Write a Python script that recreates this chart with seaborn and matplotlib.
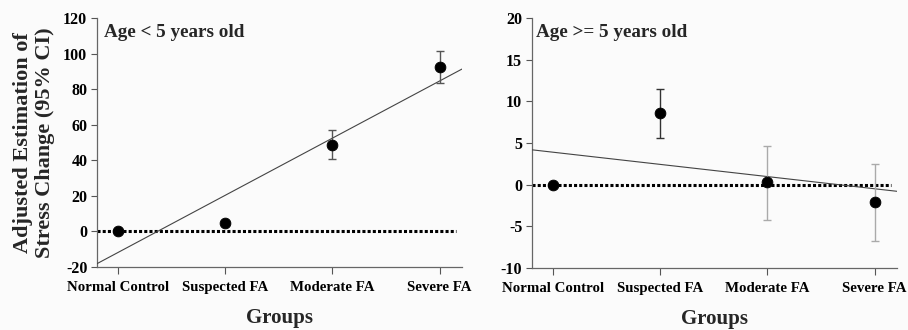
import numpy as np
import pandas as pd
import matplotlib
matplotlib.use("Agg")
import matplotlib.pyplot as plt
import seaborn as sns

# Data
groups = ["Normal Control", "Suspected FA", "Moderate FA", "Severe FA"]

young_est = [0.0, 4.7, 48.7, 92.3]
young_lo = [0.0, 4.0, 40.6, 83.5]
young_hi = [0.0, 5.5, 57.1, 101.3]

old_est = [0.0, 8.6, 0.3, -2.1]
old_lo = [0.0, 5.6, -4.2, -6.7]
old_hi = [0.0, 11.5, 4.7, 2.5]

sns.set_style("ticks")
plt.rcParams["font.family"] = ["Liberation Serif", "DejaVu Serif"]
plt.rcParams["font.weight"] = "bold"

fig = plt.figure(figsize=(9.08, 3.3), dpi=100)
ax1 = fig.add_axes([97 / 908, 1 - 267 / 330, (462 - 97) / 908, (267 - 18) / 330])
ax2 = fig.add_axes([532 / 908, 1 - 268 / 330, (897 - 532) / 908, (268 - 18) / 330])


def draw_panel(ax, est, lo, hi, ylim, yticks, label, err_colors):
    x = np.arange(len(groups))
    df = pd.DataFrame({"x": x, "est": est})
    ax.set_xlim(-0.2, 3.21)
    ax.set_ylim(*ylim)
    # zero reference line
    ax.hlines(0, -0.2, 3.15, colors="black", linestyles=(0, (1, 0.7)), linewidth=2.2, zorder=2)
    # linear trend through the group estimates
    sns.regplot(data=df, x="x", y="est", ax=ax, ci=None, truncate=False,
                scatter=False, line_kws={"color": "#444444", "linewidth": 0.8, "zorder": 3})
    for i in range(len(groups)):
        if hi[i] != lo[i]:
            ax.errorbar(x[i], est[i], yerr=[[est[i] - lo[i]], [hi[i] - est[i]]],
                        fmt="none", ecolor=err_colors[i], elinewidth=1.0, capsize=3,
                        capthick=1.0, zorder=4)
    sns.scatterplot(data=df, x="x", y="est", ax=ax, color="black", s=60,
                    edgecolor="black", zorder=5, legend=False)
    ax.set_xticks(x)
    ax.set_xticklabels(groups, fontsize=10.7, fontweight="bold")
    ax.set_yticks(yticks)
    ax.set_yticklabels([str(t) for t in yticks], fontsize=11.5, fontweight="bold")
    ax.tick_params(axis="x", length=5, width=0.8, colors="#555555", labelcolor="black", pad=5)
    ax.tick_params(axis="y", length=4, width=0.8, colors="#555555", labelcolor="black", pad=3)
    for s in ["left", "bottom"]:
        ax.spines[s].set_color("#666666")
        ax.spines[s].set_linewidth(0.9)
    sns.despine(ax=ax)
    ax.set_xlabel("Groups", fontsize=15, fontweight="bold", labelpad=10)
    ax.set_ylabel("")
    ax.text(0.02, 0.975, label, transform=ax.transAxes, ha="left", va="top",
            fontsize=13.8, fontweight="bold")
    ax.set_facecolor("#fbfbfb")


draw_panel(ax1, young_est, young_lo, young_hi, (-20, 120), list(range(-20, 121, 20)),
           "Age < 5 years old", ["#555555"] * 4)
draw_panel(ax2, old_est, old_lo, old_hi, (-10, 20), list(range(-10, 21, 5)),
           "Age >= 5 years old", ["#555555", "#333333", "#aaaaaa", "#aaaaaa"])
ax2.texts[0].set_position((0.01, 0.975))

ax1.set_ylabel("Adjusted Estimation of\nStress Change (95% CI)", fontsize=16,
               fontweight="bold", labelpad=6, linespacing=1.15)

fig.patch.set_facecolor("#fbfbfb")
fig.savefig("out.png", dpi=100, facecolor=fig.get_facecolor())
